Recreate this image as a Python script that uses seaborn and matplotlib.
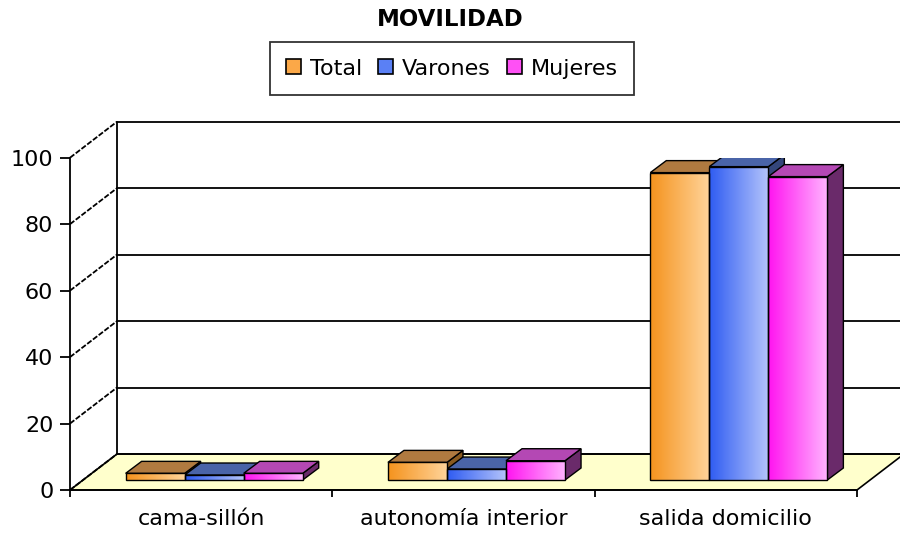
import matplotlib
matplotlib.use("Agg")
import matplotlib.pyplot as plt
import seaborn as sns
import numpy as np
import pandas as pd
from matplotlib.patches import Polygon, Patch
from matplotlib.colors import LinearSegmentedColormap

categories = ['cama-sillón', 'autonomía interior', 'salida domicilio']
series_names = ['Total', 'Varones', 'Mujeres']
total = [2.0, 5.3, 92.5]
varones = [1.5, 3.3, 94.3]
mujeres = [2.0, 5.8, 91.3]
y_ticks = [0, 20, 40, 60, 80, 100]
title = 'MOVILIDAD'

# colours: dark side of gradient, light side, top face, side face
front_dark = ['#f5931e', '#2f5cf2', '#ff14f0']
front_light = ['#ffd49a', '#b4c4fb', '#ffb4ff']
top_col = ['#b07a40', '#4a64a8', '#b448b4']
side_col = ['#8a5a20', '#34467a', '#6a2a6a']
legend_col = ['#fba848', '#5a80f5', '#ff50f5']
floor_col = '#ffffcc'

sns.set_style("white")
plt.rcParams['font.family'] = ['DejaVu Sans']
plt.rcParams['font.size'] = 16
plt.rcParams['text.color'] = 'black'
plt.rcParams['xtick.color'] = 'black'
plt.rcParams['ytick.color'] = 'black'
plt.rcParams['xtick.labelcolor'] = 'black'
plt.rcParams['ytick.labelcolor'] = 'black'

W, H, DPI = 900, 540, 100
fig = plt.figure(figsize=(W / DPI, H / DPI), dpi=DPI)
ax_l, ax_r, ax_top, ax_bot = 70, 857, 157.7, 490
ax = fig.add_axes([ax_l / W, (H - ax_bot) / H, (ax_r - ax_l) / W, (ax_bot - ax_top) / H])

df = pd.DataFrame({
    'categoria': categories * 3,
    'serie': sum([[s] * 3 for s in series_names], []),
    'valor': total + varones + mujeres,
})

sns.barplot(data=df, x='categoria', y='valor', hue='serie', hue_order=series_names,
            palette=front_dark, width=0.675, edgecolor='black', linewidth=1,
            legend=False, ax=ax)
bars = list(ax.patches)
ax.set_xlim(-0.5, 2.5)
ax.set_ylim(0, 100)

# pixel -> data conversions for the fake 3D depth
px_x = (ax_r - ax_l) / 3.0
px_y = (ax_bot - ax_top) / 100.0
back_dx, back_dy = 47 / px_x, 36 / px_y
bar_dx, bar_dy = 13 / px_x, 10 / px_y
dep_dx, dep_dy = 16 / px_x, 12 / px_y

# floor
floor = Polygon([(-0.5, 0), (2.5, 0), (2.5 + back_dx, back_dy), (-0.5 + back_dx, back_dy)],
                closed=True, facecolor=floor_col, edgecolor='black', lw=1.2,
                zorder=0.5, clip_on=False)
ax.add_patch(floor)

# back wall lines and left wall diagonals
xb = -0.5 + back_dx
for v in y_ticks:
    ax.plot([xb, 3.2], [v + back_dy, v + back_dy], color='black', lw=1.3,
            zorder=0.6, clip_on=False)
    ax.plot([-0.5, xb], [v, v + back_dy], color='black', lw=1.3,
            ls=(0, (3, 1)), zorder=0.6, clip_on=False)
ax.plot([xb, xb], [back_dy, 100 + back_dy], color='black', lw=1.3, zorder=0.6, clip_on=False)

# bars: shift front faces, add gradient, top and side faces
grad = np.linspace(0, 1, 64).reshape(1, -1)
for i, p in enumerate(bars):
    s = i // 3
    x0 = p.get_x() + bar_dx
    w = p.get_width()
    h = p.get_height()
    p.set_x(x0)
    p.set_y(bar_dy)
    p.set_facecolor('none')
    p.set_zorder(4)
    yt = bar_dy + h
    side = Polygon([(x0 + w, bar_dy), (x0 + w, yt), (x0 + w + dep_dx, yt + dep_dy),
                    (x0 + w + dep_dx, bar_dy + dep_dy)], closed=True,
                   facecolor=side_col[s], edgecolor='black', lw=1, zorder=2)
    top = Polygon([(x0, yt), (x0 + dep_dx, yt + dep_dy), (x0 + w + dep_dx, yt + dep_dy),
                   (x0 + w, yt)], closed=True,
                  facecolor=top_col[s], edgecolor='black', lw=1, zorder=2.1)
    ax.add_patch(side)
    ax.add_patch(top)
    cmap = LinearSegmentedColormap.from_list(f'g{s}', [front_dark[s], front_light[s]])
    im = ax.imshow(grad, extent=(x0, x0 + w, bar_dy, yt), cmap=cmap,
                   aspect='auto', zorder=3, interpolation='bilinear')
    im.set_clip_path(p)

ax.set_xlim(-0.5, 2.5)
ax.set_ylim(0, 100)
ax.set_aspect('auto')

# axes styling
for sp in ['top', 'right']:
    ax.spines[sp].set_visible(False)
for sp in ['left', 'bottom']:
    ax.spines[sp].set_color('black')
    ax.spines[sp].set_linewidth(1.3)
ax.set_xlabel('')
ax.set_ylabel('')
ax.set_yticks(y_ticks)
ax.set_yticklabels([str(v) for v in y_ticks])
ax.set_xticks(range(len(categories)))
ax.set_xticklabels(categories)
ax.set_xticks([-0.5, 0.5, 1.5, 2.5], minor=True)
ax.tick_params(axis='y', direction='out', length=7, width=1.3, color='black',
               labelsize=16, pad=5, left=True, labelcolor='black')
ax.tick_params(axis='x', which='major', length=0, labelsize=16, pad=14, labelcolor='black')
ax.tick_params(axis='x', which='minor', direction='out', length=5, width=1.3,
               color='black', bottom=True)
ax.grid(False)

fig.text(0.50, 1 - 20 / H, title, ha='center', va='center',
         fontsize=16.5, fontweight='bold', color='black')

handles = [Patch(facecolor=c, edgecolor='black', lw=1.2) for c in legend_col]
leg = fig.legend(handles, series_names, loc='upper center',
                 bbox_to_anchor=(452 / W, 1 - 42 / H), ncol=3, frameon=True,
                 fancybox=False, edgecolor='black', fontsize=16,
                 handlelength=0.65, handleheight=0.65, handletextpad=0.4,
                 columnspacing=0.75, borderpad=0.75, borderaxespad=0)
leg.get_frame().set_linewidth(1.3)
for t in leg.get_texts():
    t.set_color('black')

fig.savefig('out.png', dpi=DPI)
